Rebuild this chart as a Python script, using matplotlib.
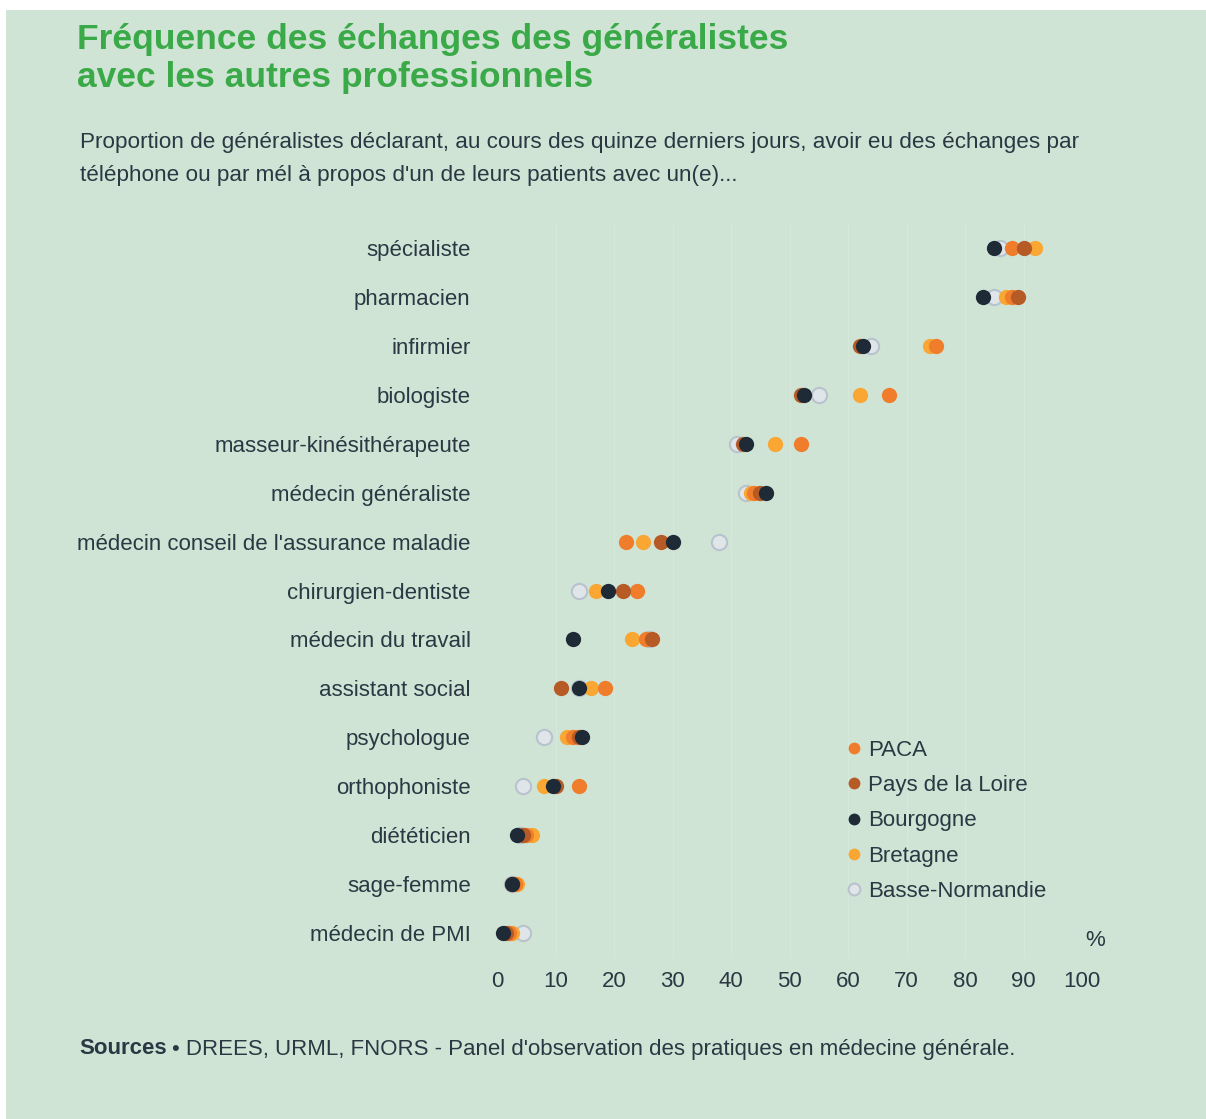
import matplotlib
matplotlib.use('Agg')
import matplotlib.pyplot as plt
from matplotlib import font_manager
from matplotlib.patches import Rectangle
from matplotlib.lines import Line2D

categories = ['spécialiste', 'pharmacien', 'infirmier', 'biologiste',
              'masseur-kinésithérapeute', 'médecin généraliste',
              "médecin conseil de l'assurance maladie", 'chirurgien-dentiste',
              'médecin du travail', 'assistant social', 'psychologue',
              'orthophoniste', 'diététicien', 'sage-femme', 'médecin de PMI']

paca = [88, 88, 75, 67, 52, 44, 22, 24, 25.5, 18.5, 13, 14, 5, 3, 2]
pays_loire = [90, 89, 62, 52, 42, 45, 28, 21.5, 26.5, 11, 14, 10, 4.5, 2.5, 1.5]
bourgogne = [85, 83, 62.5, 52.5, 42.5, 46, 30, 19, 13, 14, 14.5, 9.5, 3.5, 2.5, 1]
bretagne = [92, 87, 74, 62, 47.5, 43.5, 25, 17, 23, 16, 12, 8, 6, 3.5, 2.5]
basse_normandie = [86, 85, 64, 55, 41, 42.5, 38, 14, 26, 14, 8, 4.5, 4, 2.5, 4.5]

xticks = [0, 10, 20, 30, 40, 50, 60, 70, 80, 90, 100]

BG = '#cfe4d5'
TXT = '#2b3843'
GREEN = '#3aa947'

names = {f.name for f in font_manager.fontManager.ttflist}
NARROW = 'Liberation Sans Narrow' if 'Liberation Sans Narrow' in names else 'Liberation Sans'
plt.rcParams['font.family'] = NARROW

W, H = 1206, 1119
fig = plt.figure(figsize=(W / 100, H / 100), dpi=100)
fig.patch.set_facecolor('white')
fig.patches.append(Rectangle((6 / W, 0), 1 - 6 / W, 1 - 10 / H,
                             transform=fig.transFigure, facecolor=BG,
                             edgecolor='none', zorder=-10))

# axes placed in pixel terms: x 0 -> 497px, 100 -> 1082px ; rows 248..933
left, right = 497 / W, 1082 / W
top_px, bot_px = 248 - 24.5, 933 + 24.5
ax = fig.add_axes([left, 1 - bot_px / H, right - left, (bot_px - top_px) / H])
ax.set_zorder(1)
ax.set_facecolor('none')
ax.set_xlim(0, 100)
ax.set_ylim(len(categories) - 0.5, -0.5)
for s in ax.spines.values():
    s.set_visible(False)

for t in xticks[1:]:
    ax.axvline(t, color='#d5e9da', lw=1, zorder=1)

rows = list(range(len(categories)))
ms = 11
series = [
    ('Basse-Normandie', basse_normandie, dict(mfc='#dfe5e8', mec='#b8c3cd', mew=1.5)),
    ('Bretagne', bretagne, dict(mfc='#f9a633', mec='#f9a633', mew=0)),
    ('PACA', paca, dict(mfc='#f07d2b', mec='#f07d2b', mew=0)),
    ('Pays de la Loire', pays_loire, dict(mfc='#b65a26', mec='#b65a26', mew=0)),
    ('Bourgogne', bourgogne, dict(mfc='#1e2a36', mec='#1e2a36', mew=0)),
]
for i, (name, vals, st) in enumerate(series):
    ax.plot(vals, rows, 'o', ms=ms, zorder=3 + i, clip_on=False, **st)

ax.set_yticks(rows)
ax.set_yticklabels(categories, fontsize=16, color=TXT)
ax.tick_params(axis='y', length=0, pad=19)
ax.set_xticks(xticks)
ax.set_xticklabels([str(t) for t in xticks], fontsize=16, color=TXT)
ax.tick_params(axis='x', length=0, pad=10)

order = ['PACA', 'Pays de la Loire', 'Bourgogne', 'Bretagne', 'Basse-Normandie']
leg_handles = []
for name in order:
    st = dict(series[[s[0] for s in series].index(name)][2])
    leg_handles.append(Line2D([], [], marker='o', ls='none', ms=8.5, **st))
leg = ax.legend(leg_handles, order, loc='upper left',
                bbox_to_anchor=(844 / W, 1 - 740 / H), bbox_transform=fig.transFigure,
                frameon=False, fontsize=16, handletextpad=0.2, handlelength=0.9,
                labelspacing=0.64, borderaxespad=0, borderpad=0)
for t in leg.get_texts():
    t.set_color(TXT)

fig.text(1095 / W, 1 - 940 / H, '%', fontsize=16, color=TXT, ha='center', va='center')

fig.text(77 / W, 1 - 40 / H, 'Fréquence des échanges des généralistes',
         fontsize=25.5, fontweight='bold', color=GREEN, family='Liberation Sans',
         va='center', ha='left')
fig.text(77 / W, 1 - 77 / H, 'avec les autres professionnels',
         fontsize=25.5, fontweight='bold', color=GREEN, family='Liberation Sans',
         va='center', ha='left')

fig.text(80 / W, 1 - 143 / H,
         'Proportion de généralistes déclarant, au cours des quinze derniers jours, '
         'avoir eu des échanges par',
         fontsize=16.2, color=TXT, va='center', ha='left')
fig.text(80 / W, 1 - 175 / H,
         "téléphone ou par mél à propos d'un de leurs patients avec un(e)...",
         fontsize=16.2, color=TXT, va='center', ha='left')

src = fig.text(79 / W, 1 - 1049 / H, 'Sources', fontsize=16, fontweight='bold',
               color=TXT, va='center', ha='left')
fig.canvas.draw()
bb = src.get_window_extent()
fig.text((bb.x1 + 5) / W, 1 - 1049 / H,
         "• DREES, URML, FNORS - Panel d'observation des pratiques en médecine générale.",
         fontsize=16, color=TXT, va='center', ha='left')

fig.savefig('out.png', dpi=100, facecolor=fig.get_facecolor())
